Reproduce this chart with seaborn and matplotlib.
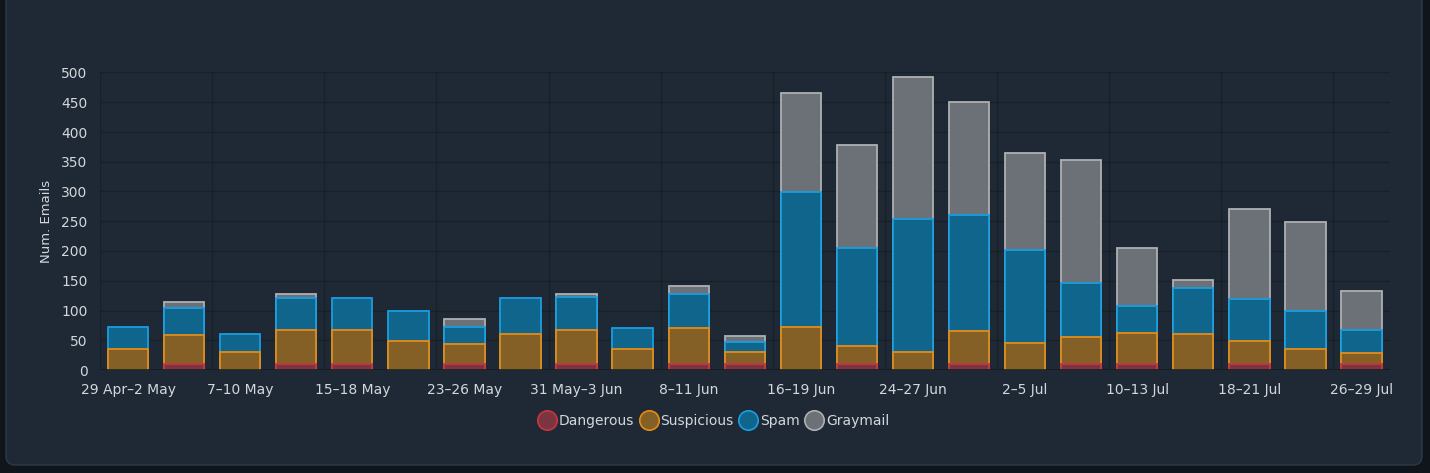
import numpy as np
import pandas as pd
import matplotlib
matplotlib.use("Agg")
import matplotlib.pyplot as plt
from matplotlib.patches import FancyBboxPatch
from matplotlib.lines import Line2D
from matplotlib.ticker import FixedLocator
import seaborn as sns

# 4-day bins
periods = ['29 Apr–2 May', '3–6 May', '7–10 May', '11–14 May', '15–18 May', '19–22 May',
           '23–26 May', '27–30 May', '31 May–3 Jun', '4–7 Jun', '8–11 Jun', '12–15 Jun',
           '16–19 Jun', '20–23 Jun', '24–27 Jun', '28 Jun–1 Jul', '2–5 Jul', '6–9 Jul',
           '10–13 Jul', '14–17 Jul', '18–21 Jul', '22–25 Jul', '26–29 Jul']
dangerous = [0, 10, 0, 10, 10, 0, 10, 0, 10, 0, 10, 10, 0, 10, 0, 10, 0, 10, 10, 0, 10, 0, 10]
suspicious = [36, 48, 30, 57, 57, 49, 33, 60, 58, 35, 60, 20, 72, 31, 31, 56, 46, 45, 53, 61, 38, 36, 18]
spam = [37, 47, 30, 54, 54, 51, 30, 61, 55, 36, 57, 17, 227, 164, 223, 194, 156, 91, 45, 77, 72, 63, 40]
graymail = [0, 9, 0, 6, 0, 0, 13, 0, 4, 0, 15, 10, 166, 173, 238, 190, 163, 207, 97, 13, 151, 150, 65]

series = ['Dangerous', 'Suspicious', 'Spam', 'Graymail']
fills = {'Dangerous': '#7b3540', 'Suspicious': '#845f26', 'Spam': '#10658d', 'Graymail': '#6c7077'}
edges = {'Dangerous': '#c9353f', 'Suspicious': '#e38c19', 'Spam': '#1a9ee0', 'Graymail': '#aeb0b3'}

df = pd.DataFrame({'period': periods, 'Dangerous': dangerous, 'Suspicious': suspicious,
                   'Spam': spam, 'Graymail': graymail})
tops = df[series].cumsum(axis=1)

panel = '#1e2935'
grid_c = '#18212a'
text_c = '#d3d7dc'

sns.set_style("dark")
plt.rcParams['font.family'] = ['DejaVu Sans']

W, H = 1430, 473
fig = plt.figure(figsize=(W / 100, H / 100), dpi=100, facecolor='#0f151b')
fig.patches.append(FancyBboxPatch((6 / W, 1 - 465 / H), 1416 / W, 1.2,
                                  boxstyle='round,pad=0,rounding_size=%f' % (9 / W),
                                  mutation_aspect=W / H, transform=fig.transFigure,
                                  facecolor=panel, edgecolor='#2c3947', linewidth=1, zorder=-10))
ax = fig.add_axes([100 / W, 103 / H, 1289.5 / W, 297.5 / H])
ax.set_facecolor(panel)

# draw cumulative stacks, tallest first so each lower segment sits on top
for s in reversed(series):
    sub = pd.DataFrame({'period': df['period'], 'top': tops[s], 'val': df[s]})
    sub = sub[sub['val'] > 0]
    sns.barplot(data=sub, x='period', y='top', order=periods, ax=ax, width=0.72,
                color=fills[s], edgecolor=edges[s], linewidth=1.3, saturation=1, zorder=3)

ax.set_xlim(-0.5, len(periods) - 0.5)
ax.set_ylim(0, 500)
ax.set_yticks(range(0, 501, 50))
ax.set_xticks(range(0, len(periods), 2))
ax.set_xticklabels(periods[::2])
ax.xaxis.set_minor_locator(FixedLocator(np.arange(-0.5, len(periods), 2)))
ax.tick_params(axis='x', which='major', length=0, pad=9, labelsize=10, labelcolor=text_c)
ax.tick_params(axis='x', which='minor', length=8, color=grid_c, width=1)
ax.tick_params(axis='y', length=8, color=grid_c, pad=1, labelsize=10, labelcolor=text_c)
ax.grid(axis='y', which='major', color=grid_c, linewidth=1, zorder=0)
ax.grid(axis='x', which='minor', color=grid_c, linewidth=1, zorder=0)
ax.grid(axis='x', which='major', visible=False)
ax.set_axisbelow(True)
for sp in ax.spines.values():
    sp.set_visible(False)
ax.axhline(0, color='#141b22', linewidth=1.2, zorder=4)
ax.set_xlabel('')
ax.set_ylabel('Num. Emails', color=text_c, fontsize=9.5, labelpad=6)

handles = [Line2D([], [], marker='o', linestyle='none', markersize=14, markerfacecolor=fills[s],
                  markeredgecolor=edges[s], markeredgewidth=1.2, label=s) for s in series]
leg = fig.legend(handles=handles, loc='center', bbox_to_anchor=(714 / W, 1 - 421 / H), ncol=4,
                 frameon=False, fontsize=10, handletextpad=0.25, columnspacing=0.45, handlelength=1.2)
for t in leg.get_texts():
    t.set_color(text_c)

fig.savefig('out.png', dpi=100, facecolor=fig.get_facecolor())
